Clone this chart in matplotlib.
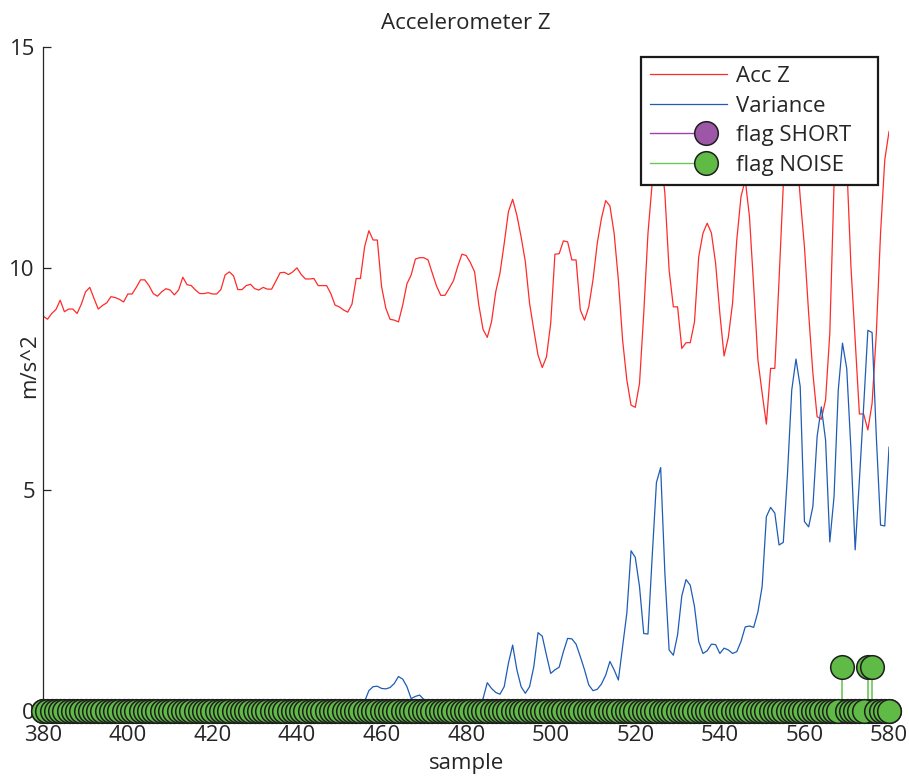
import numpy as np
import matplotlib
matplotlib.use("Agg")
import matplotlib.pyplot as plt
from matplotlib.lines import Line2D
from matplotlib.legend_handler import HandlerLine2DCompound

# sample index 380..580
samples = np.arange(380, 581)

acc_z = [
    8.92, 8.85, 8.98, 9.07, 9.28, 9.02, 9.08, 9.08, 8.98, 9.19,
    9.47, 9.57, 9.32, 9.08, 9.16, 9.22, 9.36, 9.34, 9.30, 9.24,
    9.42, 9.42, 9.57, 9.74, 9.74, 9.61, 9.43, 9.37, 9.47, 9.54,
    9.51, 9.40, 9.51, 9.80, 9.63, 9.61, 9.51, 9.43, 9.43, 9.45,
    9.42, 9.42, 9.52, 9.85, 9.92, 9.83, 9.52, 9.52, 9.61, 9.64,
    9.54, 9.51, 9.57, 9.53, 9.53, 9.71, 9.90, 9.91, 9.86, 9.92,
    10.01, 9.86, 9.76, 9.76, 9.77, 9.61, 9.61, 9.61, 9.43, 9.17,
    9.13, 9.06, 9.01, 9.19, 9.77, 9.77, 10.49, 10.85, 10.64, 10.64,
    9.59, 9.10, 8.85, 8.83, 8.79, 9.17, 9.65, 9.85, 10.21, 10.24,
    10.24, 10.19, 9.89, 9.60, 9.39, 9.39, 9.55, 9.72, 10.04, 10.32,
    10.29, 10.13, 9.92, 9.17, 8.62, 8.44, 8.79, 9.47, 9.89, 10.56,
    11.28, 11.56, 11.20, 10.71, 10.15, 9.21, 8.61, 8.04, 7.76, 8.00,
    8.76, 10.32, 10.33, 10.62, 10.60, 10.19, 10.19, 9.06, 8.83, 9.13,
    9.74, 10.56, 11.13, 11.53, 11.41, 10.79, 9.74, 8.38, 7.48, 6.91,
    6.86, 7.40, 8.98, 10.79, 11.93, 12.80, 12.60, 11.69, 9.96, 9.13,
    9.13, 8.19, 8.32, 8.32, 8.79, 10.26, 10.79, 11.02, 10.80, 10.11,
    8.98, 8.02, 8.44, 9.21, 10.64, 11.62, 12.00, 11.17, 9.59, 7.93,
    7.18, 6.48, 7.74, 7.74, 9.74, 11.88, 13.00, 13.40, 12.90, 11.60,
    10.49, 8.98, 7.63, 6.65, 6.59, 7.03, 8.53, 11.90, 13.20, 13.50,
    12.40, 10.04, 8.38, 6.71, 6.71, 6.35, 6.95, 8.53, 10.79, 12.45,
    13.09,
]

variance = [
    0.06, 0.08, 0.07, 0.09, 0.12, 0.10, 0.08, 0.06, 0.07, 0.10,
    0.14, 0.16, 0.13, 0.10, 0.08, 0.06, 0.05, 0.05, 0.04, 0.05,
    0.06, 0.07, 0.09, 0.11, 0.10, 0.08, 0.07, 0.06, 0.05, 0.05,
    0.04, 0.05, 0.07, 0.10, 0.09, 0.07, 0.05, 0.04, 0.03, 0.03,
    0.04, 0.06, 0.09, 0.13, 0.14, 0.12, 0.09, 0.06, 0.05, 0.05,
    0.04, 0.04, 0.03, 0.04, 0.05, 0.06, 0.07, 0.07, 0.06, 0.05,
    0.05, 0.04, 0.04, 0.03, 0.03, 0.04, 0.05, 0.06, 0.08, 0.10,
    0.12, 0.14, 0.15, 0.13, 0.12, 0.16, 0.22, 0.46, 0.55, 0.56,
    0.51, 0.50, 0.53, 0.62, 0.78, 0.72, 0.55, 0.28, 0.33, 0.36,
    0.26, 0.20, 0.15, 0.12, 0.10, 0.12, 0.15, 0.14, 0.12, 0.10,
    0.09, 0.11, 0.14, 0.18, 0.28, 0.64, 0.51, 0.42, 0.38, 0.55,
    1.08, 1.49, 0.93, 0.55, 0.40, 0.55, 1.00, 1.77, 1.69, 1.26,
    0.85, 0.93, 0.99, 1.34, 1.64, 1.63, 1.51, 1.23, 0.93, 0.59,
    0.46, 0.49, 0.61, 0.81, 1.12, 0.93, 0.70, 1.45, 2.21, 3.62,
    3.47, 2.81, 1.75, 1.74, 3.49, 5.16, 5.50, 3.11, 1.38, 1.26,
    1.72, 2.60, 2.97, 2.84, 2.36, 1.57, 1.30, 1.36, 1.51, 1.50,
    1.30, 1.42, 1.38, 1.30, 1.34, 1.57, 1.90, 1.92, 1.89, 2.24,
    2.81, 4.39, 4.60, 4.47, 3.75, 3.81, 5.37, 7.25, 7.95, 7.33,
    4.28, 4.16, 4.62, 6.20, 6.87, 6.12, 3.82, 4.84, 7.25, 8.31,
    7.74, 5.90, 3.64, 5.22, 6.87, 8.60, 8.55, 6.20, 4.20, 4.18,
    5.96,
]

flag_short = np.zeros(len(samples))
noise_on = [569, 575, 576]
flag_noise = np.isin(samples, noise_on).astype(float)

red = "#ff2a2a"
blue = "#1f5cb5"
purple = "#9d57a7"
purple_line = "#a040b0"
green = "#5fba46"
green_line = "#6cc75a"
edge = "#1e1e1e"
txt = "#262626"

plt.rcParams["font.family"] = ["Open Sans", "DejaVu Sans"]
plt.rcParams["font.size"] = 16

fig = plt.figure(figsize=(9.09, 7.78), dpi=100)
ax = fig.add_axes([0.0476, 0.0861, 0.9304, 0.8535])

ax.plot(samples, acc_z, color=red, lw=0.9, zorder=2)
ax.plot(samples, variance, color=blue, lw=0.9, zorder=2)

for vals, fc, lc in [(flag_short, purple, purple_line), (flag_noise, green, green_line)]:
    markerline, stemlines, baseline = ax.stem(samples, vals)
    baseline.set_visible(False)
    stemlines.set_color(lc)
    stemlines.set_linewidth(1.2)
    stemlines.set_zorder(3)
    markerline.set_marker("o")
    markerline.set_markersize(17)
    markerline.set_markerfacecolor(fc)
    markerline.set_markeredgecolor(edge)
    markerline.set_markeredgewidth(1.1)
    markerline.set_clip_on(False)
    markerline.set_zorder(4)

ax.set_xlim(380, 580)
ax.set_ylim(0, 15)
ax.set_xticks(np.arange(380, 581, 20))
ax.set_yticks([0, 5, 10, 15])
for s in ["top", "right"]:
    ax.spines[s].set_visible(False)
for s in ["left", "bottom"]:
    ax.spines[s].set_color(txt)
    ax.spines[s].set_linewidth(0.9)
ax.tick_params(direction="in", length=6, width=0.9, color=txt, labelcolor=txt,
               labelsize=16)
ax.tick_params(axis="x", pad=10)
ax.tick_params(axis="y", pad=6)

ax.set_title("Accelerometer Z", color=txt, fontsize=16, pad=13)
ax.set_xlabel("sample", color=txt, fontsize=16, labelpad=5)
ax.set_ylabel("m/s^2", color=txt, fontsize=16)
ax.yaxis.set_label_coords(-0.004, 0.52)


class StemHandler(HandlerLine2DCompound):
    # line from the left, circle sitting at ~72% of the handle
    def get_xdata(self, legend, xdescent, ydescent, width, height, fontsize):
        x0 = -xdescent
        xm = x0 + 0.72 * width
        return np.array([x0, xm]), np.array([xm])


h_acc = Line2D([], [], color=red, lw=0.9)
h_var = Line2D([], [], color=blue, lw=0.9)
h_short = Line2D([], [], color=purple_line, lw=1.0, marker="o", markersize=17,
                 markerfacecolor=purple, markeredgecolor=edge, markeredgewidth=1.1)
h_noise = Line2D([], [], color=green_line, lw=1.0, marker="o", markersize=17,
                 markerfacecolor=green, markeredgecolor=edge, markeredgewidth=1.1)

leg = ax.legend([h_acc, h_var, h_short, h_noise],
                ["Acc Z", "Variance", "flag SHORT   ", "flag NOISE   "],
                handler_map={h_short: StemHandler(), h_noise: StemHandler()},
                loc="upper right", bbox_to_anchor=(0.9866, 0.985),
                fancybox=False, framealpha=1, edgecolor="#1a1a1a",
                fontsize=16, handlelength=3.5, handletextpad=0.4,
                labelspacing=0.39, borderpad=0.4, borderaxespad=0)
leg.get_frame().set_linewidth(1.6)
for t in leg.get_texts():
    t.set_color(txt)
leg.set_zorder(10)

fig.savefig("out.png", dpi=100)
